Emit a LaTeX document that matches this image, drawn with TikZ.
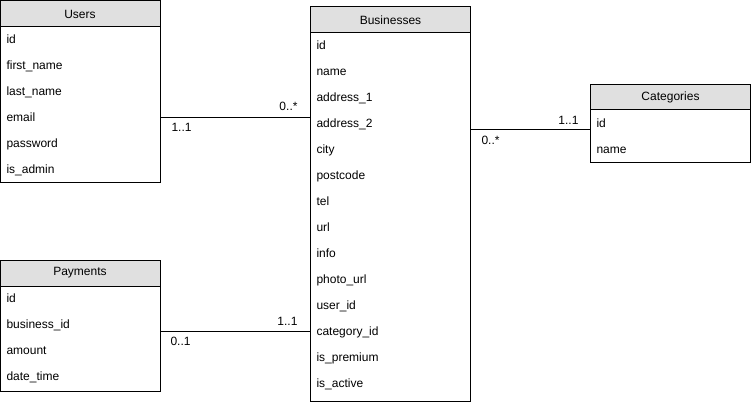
\documentclass[tikz,border=0pt]{standalone}
\usepackage{fontspec}
\setmainfont{Liberation Sans}
\usetikzlibrary{positioning}
\definecolor{hdrgray}{RGB}{224,224,224}
\tikzset{
  tbl/.style={draw, line width=1pt, minimum width=160pt, inner sep=0pt},
  hdr/.style={tbl, fill=hdrgray, minimum height=26pt, font=\fontsize{12}{14}\selectfont},
  fld/.style={anchor=west, inner sep=0pt, text height=8.5pt, text depth=0pt, font=\fontsize{12}{14}\selectfont},
  mult/.style={inner sep=0pt, text height=8.5pt, text depth=0pt, font=\fontsize{12}{14}\selectfont}
}

\begin{document}
\begin{tikzpicture}[x=1pt, y=-1pt, line width=1pt]
  \useasboundingbox (0,0) rectangle (752,406);
  % Users
  \node[hdr] (users-h) at (80,14) {Users};
  \node[tbl, minimum height=156pt] (users) at (80,105) {};
  \foreach \f [count=\i] in {id, first\_name, last\_name, email, password, is\_admin}
    \node[fld] (u\i) at (6,13+26*\i) {\f};
  %
  % Businesses
  \node[hdr] (bus-h) at (390.5,20) {Businesses};
  \node[tbl, minimum height=368pt] (bus) at (390.5,217) {};
  \foreach \f [count=\i] in {id, name, address\_1, address\_2, city, postcode, tel, url, info,
      photo\_url, user\_id, category\_id, is\_premium, is\_active}
    \node[fld] (b\i) at (316,19+26*\i) {\f};
  %
  % Categories
  \node[hdr, minimum height=25pt] (cat-h) at (670.5,97.5) {Categories};
  \node[tbl, minimum height=53pt] (cat) at (670.5,136.5) {};
  \foreach \f [count=\i] in {id, name}
    \node[fld] (c\i) at (596,97+26*\i) {\f};
  %
  % Payments
  \node[hdr] (pay-h) at (80,273) {Payments};
  \node[tbl, minimum height=105pt] (pay) at (80,338.5) {};
  \foreach \f [count=\i] in {id, business\_id, amount, date\_time}
    \node[fld] (p\i) at (6,272+26*\i) {\f};
  %
  % relations
  \coordinate (ub) at (235,118);
  \draw (users.east |- ub) -- (bus.west |- ub);
  \node[mult, anchor=east] (ub-m) at (298,106) {0..*};
  \node[mult, anchor=west] (ub-o) at (171,127) {1..1};
  %
  \coordinate (bc) at (530,130);
  \draw (bus.east |- bc) -- (cat.west |- bc);
  \node[mult, anchor=east] (bc-o) at (579,120) {1..1};
  \node[mult, anchor=west] (bc-m) at (481,140) {0..*};
  %
  \coordinate (pb) at (235,331);
  \draw (pay.east |- pb) -- (bus.west |- pb);
  \node[mult, anchor=east] (pb-o) at (298,321) {1..1};
  \node[mult, anchor=west] (pb-m) at (170,341) {0..1};
\end{tikzpicture}
\end{document}
